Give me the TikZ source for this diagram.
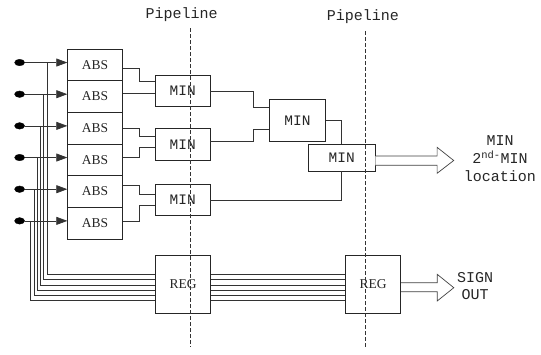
\documentclass[tikz,border=0pt]{standalone}
\usepackage{fontspec}
\setmainfont{Liberation Serif}
\newfontfamily\monofam{Liberation Mono}
\usetikzlibrary{arrows.meta,shapes.geometric}
\begin{document}
\begin{tikzpicture}[x=1pt,y=-1pt,
  wire/.style={draw=black!80, line width=0.7pt},
  box/.style={draw=black!85, line width=0.8pt, fill=white, inner sep=0pt, text=black!85},
  absbox/.style={box, minimum width=54.6pt, minimum height=31.67pt, font=\fontsize{13.5}{14}\selectfont},
  minbox/.style={box, minimum width=54.7pt, minimum height=31.5pt, font=\monofam\fontsize{14.5}{15}\selectfont},
  regbox/.style={box, minimum width=55.2pt, minimum height=57.8pt, font=\fontsize{13.5}{14}\selectfont},
  dot/.style={ellipse, fill=black, draw=black, minimum width=10pt, minimum height=6.5pt, inner sep=0pt},
  hollow/.style={draw=black!75, fill=white, line width=0.7pt, line join=miter},
  pipe/.style={draw=black!80, line width=0.7pt, dash pattern=on 4pt off 2pt},
  monotext/.style={text=black!85, font=\monofam\fontsize{15}{18}\selectfont, align=center, inner sep=0pt}
]
\useasboundingbox (0,0) rectangle (541,354);

% ABS column
\foreach \i/\y in {1/64.83,2/96.5,3/128.17,4/159.83,5/191.5,6/223.17}
  \node[absbox] (abs\i) at (95,\y) {ABS};

% first stage MIN
\node[minbox] (m1) at (182.7,90.85) {MIN};
\node[minbox] (m2) at (182.7,144.35) {MIN};
\node[minbox] (m3) at (182.7,199.65) {MIN};
% second and third stage
\node[minbox, minimum width=56.4pt, minimum height=42.7pt] (m4) at (297.5,120.35) {MIN};
\node[minbox, minimum width=66.7pt, minimum height=26.7pt] (m5) at (341.65,157.65) {MIN};

% registers
\node[regbox] (reg1) at (183,284.5) {REG};
\node[regbox] (reg2) at (373.2,284.4) {REG};

% inputs, arrows, sign bus
\foreach \i/\bo/\rs in {1/-20.4/10.2,2/-23.7/4.9,3/-26.9/-0.4,4/-30.2/-5.7,5/-33.4/-11,6/-36.7/-16.3}{
  \node[dot] (in\i) at ([xshift=-47.7pt,yshift=2.3pt]abs\i.west) {};
  \draw[wire] ([xshift=\bo pt,yshift=2.3pt]abs\i.west) |- ([yshift=\rs pt]reg1.west);
  \draw[wire] ([yshift=\rs pt]reg1.east) coordinate (r\i) -- (r\i -| reg2.west);
  \draw[wire, -{Triangle[length=11pt,width=8pt]}] (in\i) -- ([yshift=2.3pt]abs\i.west);
}

% ABS -> MIN stage 1
\draw[wire] ([yshift=-3.2pt]abs1.east) -- ++(17,0) |- ([yshift=9.15pt]m1.west);
\draw[wire] ([yshift=3.2pt]abs2.east) coordinate (t2) -- (t2 -| m1.west);
\draw[wire] (abs3.east) -- ++(17,0) |- ([yshift=7.65pt]m2.west);
\draw[wire] ([yshift=2.5pt]abs4.east) -- ++(17,0) |- ([yshift=-2.95pt]m2.west);
\draw[wire] ([yshift=5.8pt]abs5.east) -- ++(17,0) |- ([yshift=5.65pt]m3.west);
\draw[wire] ([yshift=2.2pt]abs6.east) -- ++(17,0) |- ([yshift=-5.65pt]m3.west);

% MIN stage 1 -> stage 2
\draw[wire] ([yshift=-0.85pt]m1.east) -- ++(43,0) |- ([yshift=12.65pt]m4.west);
\draw[wire] ([yshift=2.65pt]m2.east) -- ++(43,0) |- ([yshift=-8.65pt]m4.west);
% to stage 3
\draw[wire] ([yshift=-0.35pt]m4.east) -| (m5.north);
\draw[wire] ([yshift=-0.35pt]m3.east) -| (m5.south);

% outputs
\node[monotext] (res) at (500,158.5) {MIN\\2\textsuperscript{nd-}MIN\\location};
\node[monotext, font=\monofam\fontsize{15}{16.6}\selectfont] (sign) at (475,286) {SIGN\\OUT};

\draw[hollow] ([yshift=1.65pt]m5.east) -- ++(61.7,0) -- ++(0,-8.7) -- ++(16.6,13.2)
  -- ++(-16.6,12.8) -- ++(0,-8) -- ++(-61.7,0);
\draw[hollow] ([yshift=1.7pt]reg2.east) -- ++(36,0) -- ++(0,-8.4) -- ++(16.6,13.4)
  -- ++(-16.6,13.3) -- ++(0,-9.3) -- ++(-36,0);

% pipelines
\node[monotext] (pl1) at (181.7,15) {Pipeline};
\node[monotext] (pl2) at (363,16.7) {Pipeline};
\coordinate (p1t) at (190,28);
\coordinate (p1b) at (190,347);
\coordinate (p2t) at (365,31);
\coordinate (p2b) at (365,347);
\draw[pipe] (p1t) -- (p1b);
\draw[pipe] (p2t) -- (p2b);
\end{tikzpicture}
\end{document}
